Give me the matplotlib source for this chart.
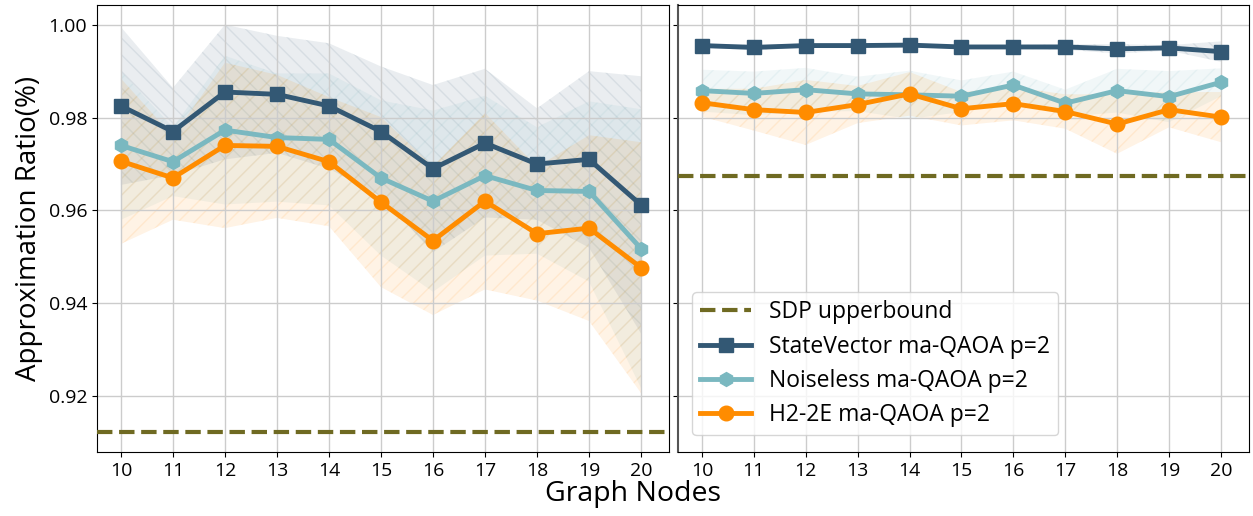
import numpy as np
import matplotlib
matplotlib.use('Agg')
import matplotlib.pyplot as plt

plt.rcParams['font.family'] = ['Open Sans', 'DejaVu Sans']

# ── data ─────────────────────────────────────────────────────────────────────
nodes = [10, 11, 12, 13, 14, 15, 16, 17, 18, 19, 20]

# left panel
sv_left = [0.9825, 0.9770, 0.9855, 0.9850, 0.9825, 0.9770, 0.9690, 0.9745, 0.9700, 0.9710, 0.9612]
sv_left_std = [0.0170, 0.0094, 0.0145, 0.0126, 0.0135, 0.0140, 0.0180, 0.0160, 0.0120, 0.0190, 0.0277]
nl_left = [0.9740, 0.9705, 0.9773, 0.9757, 0.9753, 0.9670, 0.9620, 0.9675, 0.9643, 0.9641, 0.9518]
nl_left_std = [0.0160, 0.0074, 0.0160, 0.0138, 0.0142, 0.0167, 0.0195, 0.0172, 0.0136, 0.0194, 0.0300]
h2_left = [0.9706, 0.9670, 0.9740, 0.9738, 0.9705, 0.9618, 0.9535, 0.9620, 0.9550, 0.9562, 0.9477]
h2_left_std = [0.0178, 0.0090, 0.0178, 0.0154, 0.0139, 0.0183, 0.0160, 0.0190, 0.0144, 0.0200, 0.0270]
sdp_left = 0.9124

# right panel
sv_right = [0.9955, 0.9951, 0.9955, 0.9955, 0.9956, 0.9952, 0.9952, 0.9952, 0.9948, 0.9950, 0.9942]
sv_right_std = [0.0004, 0.0006, 0.0004, 0.0004, 0.0004, 0.0004, 0.0004, 0.0006, 0.0010, 0.0006, 0.0022]
nl_right = [0.9858, 0.9852, 0.9860, 0.9851, 0.9849, 0.9846, 0.9870, 0.9831, 0.9858, 0.9845, 0.9876]
nl_right_std = [0.0045, 0.0047, 0.0047, 0.0037, 0.0052, 0.0034, 0.0029, 0.0029, 0.0047, 0.0055, 0.0030]
h2_right = [0.9832, 0.9817, 0.9811, 0.9828, 0.9851, 0.9819, 0.9830, 0.9813, 0.9786, 0.9817, 0.9801]
h2_right_std = [0.0030, 0.0045, 0.0070, 0.0040, 0.0047, 0.0036, 0.0036, 0.0037, 0.0064, 0.0038, 0.0054]
sdp_right = 0.9675

# ── styles ───────────────────────────────────────────────────────────────────
c_sv = '#335874'
c_nl = '#7ab8c0'
c_h2 = '#ff8c00'
c_sdp = '#6f6a22'

fig = plt.figure(figsize=(12.53, 5.16), dpi=100)
ax1 = fig.add_axes([0.0774, 0.124, 0.4566, 0.866])
ax2 = fig.add_axes([0.5411, 0.124, 0.4557, 0.866], sharey=ax1)


def draw(ax, sv, sv_std, nl, nl_std, h2, h2_std, sdp):
    x = np.array(nodes)
    ax.axhline(sdp, color=c_sdp, lw=3, ls='--', label='SDP upperbound', zorder=3)
    series = [
        (sv, sv_std, c_sv, 's', 10, '\\\\', 'StateVector ma-QAOA p=2'),
        (nl, nl_std, c_nl, 'h', 10, '//', 'Noiseless ma-QAOA p=2'),
        (h2, h2_std, c_h2, 'o', 10.5, '//', 'H2-2E ma-QAOA p=2'),
    ]
    for y, s, col, mk, ms, hatch, lab in series:
        y = np.array(y)
        s = np.array(s)
        ax.fill_between(x, y - s, y + s, facecolor=col, edgecolor=col,
                        alpha=0.1, hatch=hatch, linewidth=0, zorder=1)
    for y, s, col, mk, ms, hatch, lab in series:
        ax.plot(x, y, color=col, lw=3.5, marker=mk, markersize=ms, label=lab, zorder=4)
    ax.set_xticks(nodes)
    ax.set_xlim(9.54, 20.54)
    ax.grid(True, color='#cccccc', lw=1)
    ax.tick_params(labelsize=14)
    for sp in ax.spines.values():
        sp.set_color('black')


draw(ax1, sv_left, sv_left_std, nl_left, nl_left_std, h2_left, h2_left_std, sdp_left)
draw(ax2, sv_right, sv_right_std, nl_right, nl_right_std, h2_right, h2_right_std, sdp_right)

ax1.set_ylim(0.908, 1.0042)
ax1.set_yticks([0.92, 0.94, 0.96, 0.98, 1.00])
ax1.set_yticklabels(['0.92', '0.94', '0.96', '0.98', '1.00'])
ax1.set_ylabel('Approximation Ratio(%)', fontsize=20)
plt.setp(ax2.get_yticklabels(), visible=False)
ax2.spines['left'].set_color('#555555')
ax2.spines['left'].set_linewidth(1.5)

ax2.legend(loc='lower left', bbox_to_anchor=(0.005, 0.012), fontsize=16.5,
           handlelength=2.2, borderpad=0.35, labelspacing=0.45)

fig.text(0.505, 0.042, 'Graph Nodes', ha='center', va='center', fontsize=20.5)

fig.savefig('out.png', dpi=100)
